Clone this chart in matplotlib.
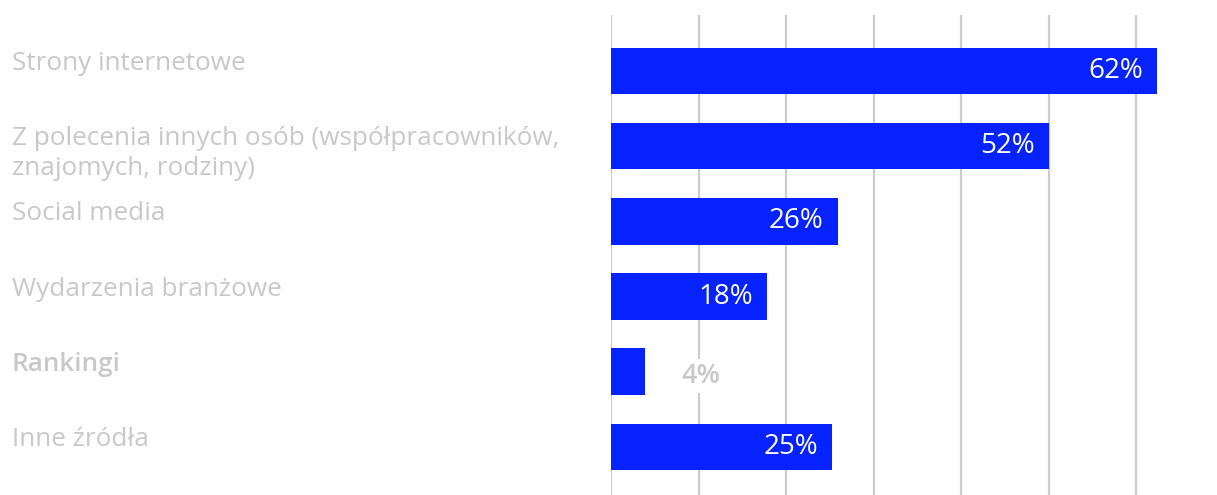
import matplotlib
matplotlib.use('Agg')
import matplotlib.pyplot as plt
import matplotlib.transforms as mtransforms

plt.rcParams['font.family'] = ['Open Sans', 'DejaVu Sans']

# Data
categories = [
    'Strony internetowe',
    'Z polecenia innych osób (współpracowników,\nznajomych, rodziny)',
    'Social media',
    'Wydarzenia branżowe',
    'Rankingi',
    'Inne źródła',
]
bar_lengths = [62.4, 50, 25.9, 17.8, 3.9, 25.3]
value_labels = ['62%', '52%', '26%', '18%', '4%', '25%']
grid_ticks = [0, 10, 20, 30, 40, 50, 60]

BLUE = '#0522ff'
GREY = '#c8c8c8'

fig = plt.figure(figsize=(12.17, 4.95), dpi=100)
ax = fig.add_axes([611 / 1217, 0, (1206 - 611) / 1217, 480 / 495])

ypos = list(range(len(categories)))
ax.barh(ypos, bar_lengths, height=0.62, color=BLUE, zorder=2)

ax.set_xlim(0, 68)
ax.set_ylim(5.64, -0.745)
for t in grid_ticks:
    ax.axvline(t, color='#cccccc', linewidth=1.6, zorder=1)

for side in ax.spines.values():
    side.set_visible(False)
ax.set_xticks([])
ax.set_yticks([])

# category labels on the left (figure x, data y)
trans = mtransforms.blended_transform_factory(fig.transFigure, ax.transData)
for i, label in enumerate(categories):
    weight = 'semibold' if label == 'Rankingi' else 'normal'
    ax.text(12 / 1217, i - 0.265, label, transform=trans, ha='left', va='top',
            fontsize=18.8, color=GREY, fontweight=weight, linespacing=1.25)

# value labels
for i, (v, lab) in enumerate(zip(bar_lengths, value_labels)):
    if v > 10:
        ax.annotate(lab, (v, i), xytext=(-10, 0), textcoords='offset points',
                    ha='right', va='center', color='white', fontsize=20, zorder=3)
    else:
        ax.annotate(lab, (v, i), xytext=(26, -3), textcoords='offset points',
                    ha='left', va='center', color=GREY, fontsize=19.5,
                    fontweight='semibold', zorder=3,
                    bbox=dict(facecolor='white', edgecolor='none', pad=2))

fig.savefig('out.png', dpi=100)
